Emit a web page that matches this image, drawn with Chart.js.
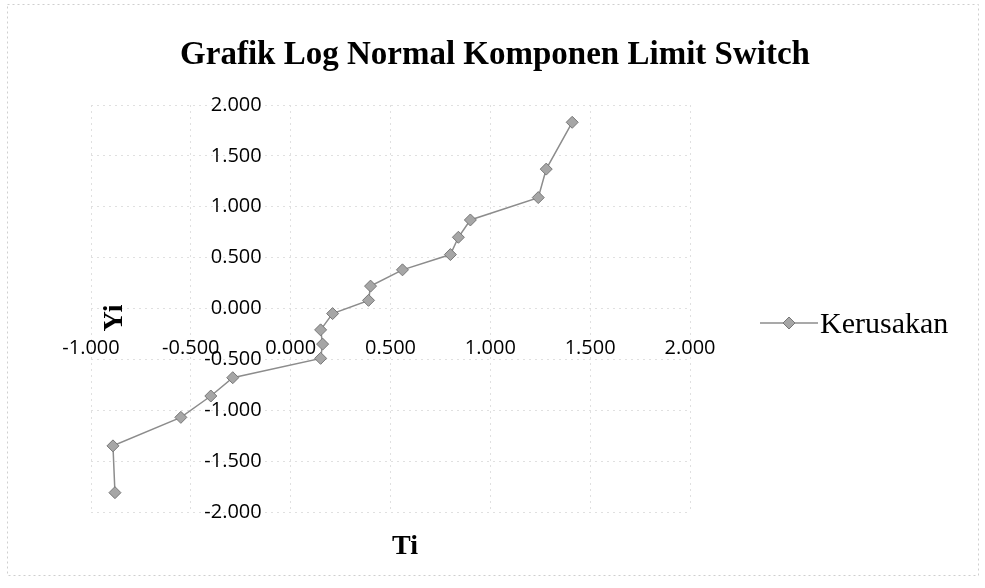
<!DOCTYPE html>
<html>
<head>
<meta charset="utf-8">
<script src="https://cdn.jsdelivr.net/npm/chart.js@4"></script>
<style>
  html, body { margin: 0; padding: 0; background: #fff; }
  #wrap { width: 985px; height: 588px; }
</style>
</head>
<body>
<div id="wrap"><canvas id="chart" width="985" height="588"></canvas></div>
<script>
const TITLE = 'Grafik Log Normal Komponen Limit Switch';
const SERIES_NAME = 'Kerusakan';
const X_TITLE = 'Ti';
const Y_TITLE = 'Yi';

// Ti (x) and Yi (y)
const ti = [-0.88, -0.89, -0.55, -0.40, -0.29, 0.15, 0.16, 0.15, 0.21, 0.39, 0.40, 0.56, 0.80, 0.84, 0.90, 1.24, 1.28, 1.41];
const yi = [-1.81, -1.35, -1.07, -0.86, -0.68, -0.49, -0.35, -0.21, -0.05, 0.08, 0.22, 0.38, 0.53, 0.70, 0.87, 1.09, 1.37, 1.83];

const xTicks = [-1, -0.5, 0, 0.5, 1, 1.5, 2];
const yTicks = [-2, -1.5, -1, -0.5, 0, 0.5, 1, 1.5, 2];

const points = ti.map((x, i) => ({ x, y: yi[i] }));

const GRAY = '#8c8c8c';
const MARKER_FILL = '#a6a6a6';
const MARKER_EDGE = '#777';
const tickFont = { family: 'Open Sans', size: 20 };

const extras = {
    id: 'extras',
    afterDraw(chart) {
        const ctx = chart.ctx;
        ctx.save();
        // faint dotted frame round the chart
        ctx.strokeStyle = '#cfcfcf';
        ctx.setLineDash([2, 3]);
        ctx.lineWidth = 1;
        ctx.strokeRect(7.5, 4.5, 971, 571);
        ctx.setLineDash([]);

        ctx.fillStyle = '#000';
        ctx.textAlign = 'center';
        ctx.textBaseline = 'alphabetic';
        ctx.font = 'bold 33px "Liberation Serif"';
        ctx.fillText(TITLE, 495, 64);

        ctx.font = 'bold 28px "Liberation Serif"';
        ctx.fillText(X_TITLE, 405, 554);
        ctx.save();
        ctx.translate(122, 318);
        ctx.rotate(-Math.PI / 2);
        ctx.fillText(Y_TITLE, 0, 0);
        ctx.restore();

        // legend entry: line with marker, then name
        ctx.strokeStyle = GRAY;
        ctx.lineWidth = 1.5;
        ctx.beginPath();
        ctx.moveTo(760, 323);
        ctx.lineTo(818, 323);
        ctx.stroke();
        ctx.fillStyle = MARKER_FILL;
        ctx.strokeStyle = MARKER_EDGE;
        ctx.lineWidth = 1;
        Chart.helpers.drawPoint(ctx, { pointStyle: 'rectRot', radius: 6, borderWidth: 1 }, 789, 323);
        ctx.fillStyle = '#000';
        ctx.textAlign = 'left';
        ctx.font = '30px "Liberation Serif"';
        ctx.fillText(SERIES_NAME, 820, 333);
        ctx.restore();
    }
};

new Chart(document.getElementById('chart'), {
    type: 'scatter',
    data: {
        datasets: [{
            label: SERIES_NAME,
            data: points,
            showLine: true,
            borderColor: GRAY,
            borderWidth: 1.5,
            backgroundColor: MARKER_FILL,
            pointStyle: 'rectRot',
            pointRadius: 6,
            pointBorderColor: MARKER_EDGE,
            pointBorderWidth: 1
        }]
    },
    options: {
        responsive: false,
        animation: false,
        layout: { padding: { left: 91, right: 295, top: 105, bottom: 76 } },
        plugins: {
            legend: { display: false },
            title: { display: false },
            tooltip: { enabled: false }
        },
        scales: {
            x: {
                type: 'linear',
                position: { y: 0 },
                min: -1, max: 2,
                afterBuildTicks: s => { s.ticks = xTicks.map(v => ({ value: v })); },
                grid: { color: '#e0e0e0', drawTicks: false, lineWidth: 1 },
                border: { display: false, dash: [2, 4] },
                ticks: { color: '#000', font: tickFont, padding: 28, callback: v => v.toFixed(3) }
            },
            y: {
                type: 'linear',
                // labels end a little left of the x = 0 line
                position: { x: -0.145 },
                min: -2, max: 2,
                afterBuildTicks: s => { s.ticks = yTicks.map(v => ({ value: v })); },
                grid: { color: '#e0e0e0', drawTicks: false, lineWidth: 1 },
                border: { display: false, dash: [2, 4] },
                ticks: { color: '#000', font: tickFont, callback: v => v.toFixed(3) }
            }
        }
    },
    plugins: [extras]
});
</script>
</body>
</html>
